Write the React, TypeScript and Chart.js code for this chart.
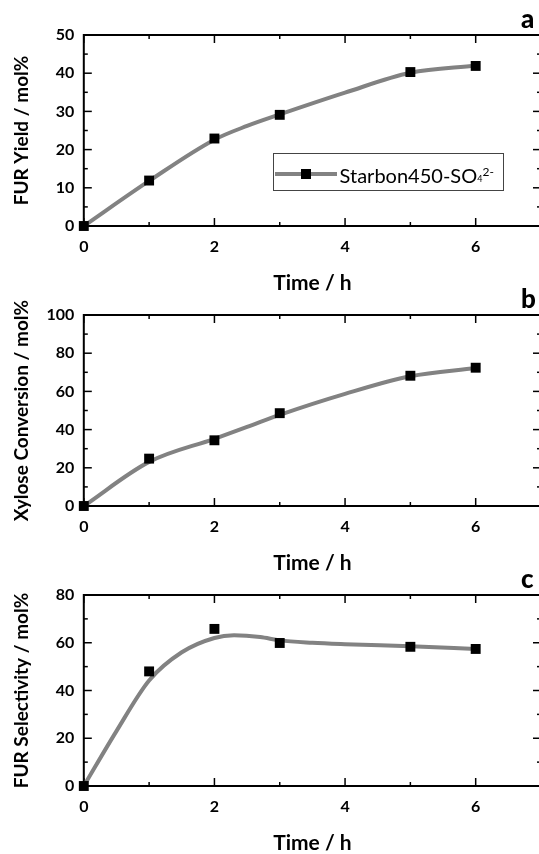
import React, { useEffect, useRef } from "react";
import { Chart, registerables } from "chart.js";

Chart.register(...registerables);

// ---- data ----
const timeH = [0, 1, 2, 3, 5, 6];
const furYield = [0, 11.9, 22.9, 29.1, 40.3, 41.9];
const xyloseConversion = [0, 24.8, 34.4, 48.6, 68.2, 72.4];
const furSelectivity = [0, 48.0, 65.8, 59.9, 58.3, 57.4];

// fitted curves
const fitTime = [0, 1, 2, 2.5, 3, 4, 5, 6];
const furYieldFit = [0, 11.8, 22.6, 26.2, 29.2, 34.9, 40.1, 42.0];
const xyloseConversionFit = [0, 23.1, 35.2, 41.4, 47.7, 58.7, 67.9, 72.2];
const fitTimeC = [0, 0.5, 1, 1.5, 2, 2.3, 2.7, 3, 3.5, 4, 5, 6];
const furSelectivityFit = [0, 23.0, 44.2, 56.0, 62.0, 63.1, 62.4, 61.0, 60.0, 59.4, 58.5, 57.4];

const xTickLabels = [0, 2, 4, 6];
const yTicksA = [0, 10, 20, 30, 40, 50];
const yTicksB = [0, 20, 40, 60, 80, 100];
const yTicksC = [0, 20, 40, 60, 80];

const seriesName = "Starbon450-SO";
const xTitle = "Time / h";
const yTitleA = "FUR Yield / mol%";
const yTitleB = "Xylose Conversion / mol%";
const yTitleC = "FUR Selectivity / mol%";

const FONT = "Lato, 'Open Sans', sans-serif";
const CANVAS_W = 560;
const CANVAS_H = 294;
const PLOT_TOP = 35;
const PLOT_H = 191;
const PLOT_LEFT = 83.8;
const PLOT_RIGHT = 541;

type PanelCfg = {
  letter: string;
  yTitle: string;
  values: number[];
  fitX: number[];
  fit: number[];
  yTicks: number[];
  yMinor: number;
  offset: number;
  legend?: boolean;
};

const panels: PanelCfg[] = [
  { letter: "a", yTitle: yTitleA, values: furYield, fitX: fitTime, fit: furYieldFit, yTicks: yTicksA, yMinor: 5, offset: 0, legend: true },
  { letter: "b", yTitle: yTitleB, values: xyloseConversion, fitX: fitTime, fit: xyloseConversionFit, yTicks: yTicksB, yMinor: 10, offset: 280 },
  { letter: "c", yTitle: yTitleC, values: furSelectivity, fitX: fitTimeC, fit: furSelectivityFit, yTicks: yTicksC, yMinor: 10, offset: 560 },
];

const framePlugin = {
  id: "frameTicks",
  beforeDatasetsDraw(chart: any, _args: any, opts: any) {
    const { ctx, chartArea, scales } = chart;
    const { left, right, top, bottom } = chartArea;
    const x = scales.x;
    const y = scales.y;
    ctx.save();
    ctx.strokeStyle = "#000";
    ctx.lineWidth = 1.5;
    const seg = (x1: number, y1: number, x2: number, y2: number) => {
      ctx.beginPath();
      ctx.moveTo(x1, y1);
      ctx.lineTo(x2, y2);
      ctx.stroke();
    };
    const isMajor = (v: number, step: number) => Math.abs(v / step - Math.round(v / step)) < 1e-6;
    for (let v = x.min; v <= x.max + 1e-9; v += opts.xMinor) {
      const px = x.getPixelForValue(v);
      const len = isMajor(v, opts.xMajor) ? 8 : 4;
      seg(px, bottom, px, bottom - len);
      seg(px, top, px, top + len);
    }
    for (let v = y.min; v <= y.max + 1e-9; v += opts.yMinor) {
      const py = y.getPixelForValue(v);
      const len = isMajor(v, opts.yMajor) ? 8 : 4;
      seg(left, py, left + len, py);
      seg(right, py, right - len, py);
    }
    ctx.lineWidth = 2;
    ctx.strokeRect(left, top, right - left, bottom - top);
    ctx.restore();
  },
};

function Panel({ cfg }: { cfg: PanelCfg }) {
  const ref = useRef<HTMLCanvasElement | null>(null);
  useEffect(() => {
    if (!ref.current) return;
    const yMax = cfg.yTicks[cfg.yTicks.length - 1];
    const yMajor = cfg.yTicks[1] - cfg.yTicks[0];
    const chart = new Chart(ref.current, {
      type: "line",
      data: {
        datasets: [
          {
            label: seriesName,
            data: timeH.map((t, i) => ({ x: t, y: cfg.values[i] })),
            showLine: false,
            pointStyle: "rect",
            pointRadius: 7,
            pointBackgroundColor: "#000",
            pointBorderColor: "#000",
            pointBorderWidth: 0,
            clip: false as any,
          },
          {
            label: "fit",
            data: cfg.fitX.map((t, i) => ({ x: t, y: cfg.fit[i] })),
            borderColor: "#828282",
            borderWidth: 4,
            pointRadius: 0,
            cubicInterpolationMode: "monotone",
            fill: false,
            clip: false as any,
          },
        ],
      },
      options: {
        animation: false,
        responsive: false,
        layout: { padding: { top: PLOT_TOP, right: CANVAS_W - PLOT_RIGHT, left: 0, bottom: 0 } },
        plugins: {
          legend: { display: false },
          tooltip: { enabled: false },
          frameTicks: { xMajor: 2, xMinor: 1, yMajor, yMinor: cfg.yMinor },
        } as any,
        scales: {
          x: {
            type: "linear",
            min: 0,
            max: 7,
            grid: { display: false, drawTicks: false },
            border: { display: false },
            ticks: {
              stepSize: 2,
              padding: 11,
              color: "#000",
              font: { family: FONT, size: 16, weight: "bold" },
            },
            afterBuildTicks: (s: any) => {
              s.ticks = xTickLabels.map((v) => ({ value: v }));
            },
            afterFit: (s: any) => {
              s.height = CANVAS_H - PLOT_TOP - PLOT_H;
            },
            title: {
              display: true,
              text: xTitle,
              color: "#000",
              font: { family: FONT, size: 21, weight: "bold", lineHeight: 1 },
              padding: { top: 0, bottom: 0 },
            },
          },
          y: {
            type: "linear",
            min: 0,
            max: yMax,
            grid: { display: false, drawTicks: false },
            border: { display: false },
            ticks: {
              stepSize: yMajor,
              padding: 9.5,
              color: "#000",
              font: { family: FONT, size: 16, weight: "bold" },
            },
            afterBuildTicks: (s: any) => {
              s.ticks = cfg.yTicks.map((v) => ({ value: v }));
            },
            afterFit: (s: any) => {
              s.width = PLOT_LEFT;
            },
            title: {
              display: true,
              text: cfg.yTitle,
              color: "#000",
              font: { family: FONT, size: 19, weight: "bold", lineHeight: 1 },
              padding: { top: 12, bottom: 0 },
            },
          },
        },
      },
      plugins: [framePlugin],
    });
    return () => chart.destroy();
  }, [cfg]);

  return (
    <div style={{ position: "absolute", left: 0, top: cfg.offset, width: CANVAS_W, height: CANVAS_H }}>
      <canvas ref={ref} width={CANVAS_W} height={CANVAS_H} style={{ width: CANVAS_W, height: CANVAS_H, display: "block" }} />
      <div
        style={{
          position: "absolute",
          left: 521,
          top: 3,
          fontFamily: FONT,
          fontWeight: 900,
          fontSize: 26,
          lineHeight: "30px",
          color: "#000",
        }}
      >
        {cfg.letter}
      </div>
      {cfg.legend && (
        <div
          style={{
            position: "absolute",
            left: 272.6,
            top: 153,
            width: 231,
            height: 38,
            boxSizing: "border-box",
            border: "1px solid #444",
            background: "#fff",
          }}
        >
          <div style={{ position: "absolute", left: 1, top: 17.7, width: 62, height: 4, background: "#828282" }} />
          <div style={{ position: "absolute", left: 27, top: 14.7, width: 10, height: 10, background: "#000" }} />
          <div
            style={{
              position: "absolute",
              left: 66,
              top: 4,
              fontFamily: FONT,
              fontSize: 20,
              lineHeight: "28px",
              color: "#000",
              whiteSpace: "nowrap",
            }}
          >
            {seriesName}
            <span style={{ fontSize: 9, verticalAlign: "1px" }}>4</span>
            <span style={{ fontSize: 12, verticalAlign: "7px" }}>2-</span>
          </div>
        </div>
      )}
    </div>
  );
}

export default function App() {
  return (
    <div
      style={{
        position: "absolute",
        left: 0,
        top: 0,
        width: 539,
        height: 854,
        overflow: "hidden",
        background: "#fff",
      }}
    >
      {panels.map((p) => (
        <Panel key={p.letter} cfg={p} />
      ))}
    </div>
  );
}
